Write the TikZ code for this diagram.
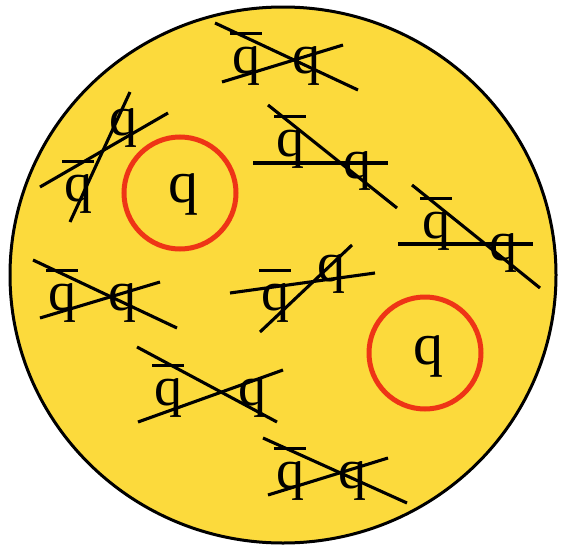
\documentclass[tikz,border=0pt]{standalone}
\usepackage{fontspec}
\setmainfont{Liberation Serif}
\usepackage{tikz}
\usetikzlibrary{positioning}
\definecolor{bagyellow}{RGB}{252,218,60}
\definecolor{ringred}{RGB}{238,52,22}
\newcommand{\antiq}{\rlap{\hspace{-0.03em}\raisebox{0.68em}{\rule{0.56em}{0.05em}}}q}

\begin{document}
\begin{tikzpicture}[x=1pt, y=-1pt,
    quark/.style={anchor=base, inner sep=0pt, font=\fontsize{56}{60}\selectfont},
    free/.style={anchor=base, inner sep=0pt, font=\fontsize{60}{66}\selectfont},
    cut/.style={line width=3.1pt},
    ring/.style={draw=ringred, line width=5pt}
]
\useasboundingbox (0,0) rectangle (565,546);
\draw[fill=bagyellow, line width=3pt] (283,275) ellipse [x radius=273pt, y radius=268pt];
% bound pairs
\node[quark] (a1) at (246,73) {\antiq};
\node[quark] (b1) at (306,73) {q};
\draw[cut] (215,23) -- (358,90);
\draw[cut] (222,82) -- (343,45);
\node[quark] (a2) at (78,201) {\antiq};
\node[quark] (b2) at (123,135) {q};
\draw[cut] (40,187) -- (168,113);
\draw[cut] (70,222) -- (130,92);
\node[quark] (a3) at (290,156) {\antiq};
\node[quark] (b3) at (357,178) {q};
\draw[cut] (253,163) -- (388,163);
\draw[cut] (268,105) -- (397,208);
\node[quark] (a4) at (436,238) {\antiq};
\node[quark] (b4) at (503,260) {q};
\draw[cut] (398,244) -- (533,244);
\draw[cut] (412,185) -- (540,288);
\node[quark] (a5) at (62,310) {\antiq};
\node[quark] (b5) at (122,310) {q};
\draw[cut] (33,260) -- (177,328);
\draw[cut] (40,318) -- (160,282);
\node[quark] (a6) at (275,310) {\antiq};
\node[quark] (b6) at (331,281) {q};
\draw[cut] (230,293) -- (375,273);
\draw[cut] (260,332) -- (352,245);
\node[quark] (a7) at (168,405) {\antiq};
\node[quark] (b7) at (252,405) {q};
\draw[cut] (137,347) -- (277,422);
\draw[cut] (138,422) -- (283,370);
\node[quark] (a8) at (290,488) {\antiq};
\node[quark] (b8) at (352,488) {q};
\draw[cut] (263,438) -- (407,503);
\draw[cut] (268,495) -- (388,458);
% free quarks
\draw[ring] (180,193) circle [radius=56pt];
\node[free] (f1) at (183,202) {q};
\draw[ring] (425,353) circle [radius=56pt];
\node[free] (f2) at (428,364) {q};
\end{tikzpicture}
\end{document}
